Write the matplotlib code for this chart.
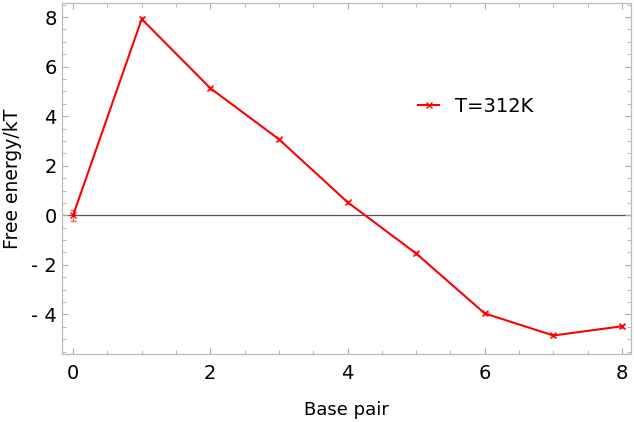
import matplotlib
matplotlib.use("Agg")
import matplotlib.pyplot as plt
from matplotlib.lines import Line2D
from matplotlib.ticker import MultipleLocator, FuncFormatter

base_pair = [0, 1, 2, 3, 4, 5, 6, 7, 8]
free_energy = [0.0, 7.92, 5.13, 3.07, 0.53, -1.54, -3.96, -4.85, -4.48]
err = [0.22, 0.08, 0.06, 0.06, 0.06, 0.06, 0.06, 0.06, 0.06]

fig = plt.figure(figsize=(6.34, 4.22), dpi=100)
ax = fig.add_axes([0.098, 0.161, 0.897, 0.832])

ax.axhline(0, color="#555555", lw=0.9, zorder=1)
ax.errorbar(base_pair, free_energy, yerr=err, color="red", lw=1.5,
            marker="x", ms=5, mew=1, capsize=2.5, elinewidth=0.8,
            ecolor="#ff6060", zorder=3)

ax.set_xlim(-0.16, 8.13)
ax.set_ylim(-5.6, 8.57)
ax.xaxis.set_major_locator(MultipleLocator(2))
ax.xaxis.set_minor_locator(MultipleLocator(0.5))
ax.yaxis.set_major_locator(MultipleLocator(2))
ax.yaxis.set_minor_locator(MultipleLocator(0.5))
ax.yaxis.set_major_formatter(FuncFormatter(
    lambda v, p: f"- {abs(int(round(v)))}" if v < 0 else f"{int(round(v))}"))

for s in ax.spines.values():
    s.set_color("#bbbbbb")
    s.set_linewidth(0.9)
ax.tick_params(which="both", direction="in", top=True, right=True,
               color="#aaaaaa", labelsize=14)
ax.tick_params(axis="y", which="major", pad=4)
ax.tick_params(axis="x", which="major", pad=7)
ax.tick_params(which="major", length=4)
ax.tick_params(which="minor", length=3)

ax.set_xlabel("Base pair", fontsize=13, labelpad=13)
ax.set_ylabel("Free energy/kT", fontsize=13.5, va="center")
ax.yaxis.set_label_coords(-0.088, 0.5)

handle = Line2D([], [], color="red", lw=1.5, marker="x", ms=5, mew=1)
ax.legend([handle], ["T=312K"], loc="center", bbox_to_anchor=(0.727, 0.705),
          frameon=False, fontsize=14, handlelength=1.1, handletextpad=0.8)

fig.savefig("out.png", dpi=100)
